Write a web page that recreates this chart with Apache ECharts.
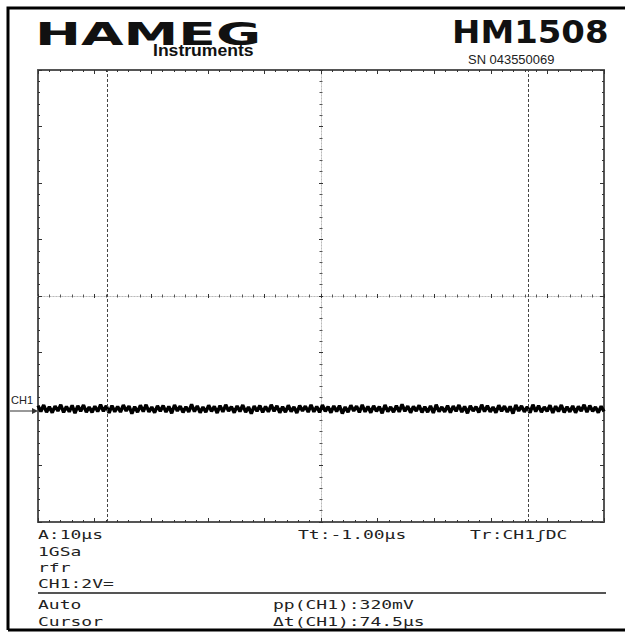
<!DOCTYPE html>
<html>
<head>
<meta charset="utf-8">
<script src="https://cdn.jsdelivr.net/npm/echarts@6/dist/echarts.min.js"></script>
<style>
html,body{margin:0;padding:0;background:#fff;}
#c{width:625px;height:632px;}
</style>
</head>
<body>
<div id="c"></div>
<script>
// ---- data ----
const timeMinUs = -50, timeMaxUs = 50, timeDivUs = 10;   // 10 µs/div, 10 divisions
const voltMin = -4, voltMax = 12, voltDiv = 2;           // 2 V/div, 8 divisions
const cursorTimesUs = [-37.8, 36.7];                     // Δt = 74.5 µs
// CH1 trace, noise band around 0 V (mV), pp ≈ 320 mV
const traceMv = [
120,-90,140,-110,80,-130,100,-70,150,-120,
90,-100,130,-150,110,-80,140,-110,70,-120,
100,-90,150,-80,110,-140,120,-100,90,-110,
140,-70,100,-160,80,-110,130,-90,150,-100,
70,-130,110,-80,120,-110,90,-150,140,-70,
100,-120,80,-100,160,-90,110,-130,70,-110,
130,-80,90,-140,120,-100,150,-70,80,-130,
110,-90,140,-110,70,-160,100,-80,120,-120,
90,-100,150,-80,110,-130,80,-110,130,-90,
70,-140,120,-70,100,-110,150,-100,90,-120,
140,-80,80,-130,110,-90,120,-160,70,-110,
130,-70,100,-120,150,-100,90,-130,110,-80,
80,-150,140,-90,70,-110,120,-100,160,-80,
100,-130,90,-70,130,-120,80,-110,110,-140,
150,-90,70,-100,120,-130,100,-80,140,-110,
90,-150,110,-70,80,-120,150,-90,120,-100,
70,-130,130,-80,100,-110,90,-160,140,-70,
110,-100,80,-130,150,-90,120,-110,70,-80,
130,-140,100,-90,140,-120,80,-100,110,-130,
90,-70,150,-110,120,-80,70,-130,100,-90
];
const headerTexts = {brand:'HAMEG', sub:'Instruments', model:'HM1508', serial:'SN 043550069'};
const statusLeft = ['A:10µs','1GSa','rfr','CH1:2V='];
const statusMid = 'Tt:-1.00µs';
const statusRight = 'Tr:CH1ʃDC';
const measureLeft = ['Auto','Cursor'];
const measureRight = ['pp(CH1):320mV','Δt(CH1):74.5µs'];

// ---- build ----
const sampleStepUs = (timeMaxUs - timeMinUs) / (traceMv.length - 1);
const traceData = traceMv.map((v,i)=>[timeMinUs + i*sampleStepUs, v/1000]);

const chart = echarts.init(document.getElementById('c'), null, {renderer:'svg'});

const G = {left:38, top:70, width:566, height:452};
const borderColor = '#555';
const tickColor = '#333';

function xAx(extra){
  return Object.assign({
    type:'value', min:timeMinUs, max:timeMaxUs, interval:timeDivUs, silent:true,
    axisLabel:{show:false}, splitLine:{show:false},
    axisLine:{show:true, onZero:false, lineStyle:{color:borderColor, width:2}},
    axisTick:{show:true, inside:true, length:4, lineStyle:{color:tickColor, width:1}},
    minorTick:{show:true, splitNumber:5, length:2, lineStyle:{color:tickColor, width:1}}
  }, extra);
}
function yAx(extra){
  return Object.assign({
    type:'value', min:voltMin, max:voltMax, interval:voltDiv, silent:true,
    axisLabel:{show:false}, splitLine:{show:false},
    axisLine:{show:true, onZero:false, lineStyle:{color:borderColor, width:2}},
    axisTick:{show:true, inside:true, length:4, lineStyle:{color:tickColor, width:1}},
    minorTick:{show:true, splitNumber:5, length:2, lineStyle:{color:tickColor, width:1}}
  }, extra);
}
const centerLine = {show:true, onZero:false, lineStyle:{color:'#bbb', width:1, type:[1,2]}};

const mono = '"DejaVu Sans Mono", monospace';
function scopeText(x, y, s){
  return {type:'text', x:x, y:y, scaleX:1.5, silent:true,
    style:{text:s, font:'12px '+mono, fill:'#222', textVerticalAlign:'middle', lineHeight:12}};
}

const graphics = [
  // outer frame
  {type:'polyline', silent:true, shape:{points:[[8,630],[8,8],[625,8]]}, style:{stroke:'#000', lineWidth:3, fill:null}},
  {type:'line', silent:true, shape:{x1:8,y1:630,x2:625,y2:630}, style:{stroke:'#000', lineWidth:3}},
  // header
  {type:'text', x:35, y:34, scaleX:1.72, silent:true, style:{text:headerTexts.brand, font:'900 32px "DejaVu Sans"', fill:'#111', textVerticalAlign:'middle', lineHeight:26}},
  {type:'text', x:153, y:51, scaleX:1.1, silent:true, style:{text:headerTexts.sub, font:'bold 16px "Liberation Sans Narrow", "Liberation Sans"', fill:'#111', textVerticalAlign:'middle', lineHeight:13}},
  {type:'text', x:452, y:32, scaleX:1.06, silent:true, style:{text:headerTexts.model, font:'bold 32px "DejaVu Sans"', fill:'#111', textVerticalAlign:'middle', lineHeight:24}},
  {type:'text', x:468, y:60, scaleX:1.08, silent:true, style:{text:headerTexts.serial, font:'12px "Liberation Sans Narrow", "Liberation Sans"', fill:'#222', textVerticalAlign:'middle', lineHeight:10}},
  // status lines
  scopeText(38, 535, statusLeft[0]),
  scopeText(38, 552, statusLeft[1]),
  scopeText(38, 568, statusLeft[2]),
  scopeText(38, 584, statusLeft[3]),
  scopeText(298, 535, statusMid),
  scopeText(470, 535, statusRight),
  {type:'line', silent:true, shape:{x1:38,y1:593,x2:606,y2:593}, style:{stroke:'#555', lineWidth:2}},
  scopeText(38, 605, measureLeft[0]),
  scopeText(38, 622, measureLeft[1]),
  scopeText(273, 605, measureRight[0]),
  scopeText(273, 622, measureRight[1])
];

chart.setOption({
  animation:false,
  backgroundColor:'#fff',
  grid:G,
  xAxis:[
    xAx({position:'bottom'}),
    xAx({position:'top'}),
    xAx({position:'bottom', offset:-226, axisLine:centerLine, axisTick:{show:true, inside:true, length:2, lineStyle:{color:tickColor}}, minorTick:{show:true, splitNumber:5, length:1.5, lineStyle:{color:'#555'}}}),
    xAx({position:'bottom', offset:-226, axisLine:centerLine, axisTick:{show:true, inside:false, length:2, lineStyle:{color:tickColor}}, minorTick:{show:true, splitNumber:5, length:1.5, lineStyle:{color:'#555'}}})
  ],
  yAxis:[
    yAx({position:'left'}),
    yAx({position:'right'}),
    yAx({position:'left', offset:-283, axisLine:centerLine, axisTick:{show:true, inside:true, length:2, lineStyle:{color:tickColor}}, minorTick:{show:true, splitNumber:5, length:1.5, lineStyle:{color:'#555'}}}),
    yAx({position:'left', offset:-283, axisLine:centerLine, axisTick:{show:true, inside:false, length:2, lineStyle:{color:tickColor}}, minorTick:{show:true, splitNumber:5, length:1.5, lineStyle:{color:'#555'}}})
  ],
  series:[{
    type:'line', xAxisIndex:0, yAxisIndex:0, data:traceData, showSymbol:false, symbol:'none',
    lineStyle:{color:'#000', width:3.4}, silent:true,
    markLine:{silent:true, symbol:'none', label:{show:false},
      lineStyle:{color:'#444', width:1, type:[3,2]},
      data:cursorTimesUs.map(t=>({xAxis:t}))}
  }],
  graphic:graphics
});

// CH1 ground marker at 0 V
const py = chart.convertToPixel({yAxisIndex:0}, 0);
graphics.push(
  {type:'text', x:11, y:py-9, silent:true, style:{text:'CH1', font:'11px "Liberation Sans"', fill:'#222', textVerticalAlign:'middle', lineHeight:10}},
  {type:'line', silent:true, shape:{x1:10,y1:py+2,x2:34,y2:py+2}, style:{stroke:'#333', lineWidth:1}},
  {type:'polygon', silent:true, shape:{points:[[38,py+2],[32,py-1],[32,py+5]]}, style:{fill:'#333'}}
);
chart.setOption({graphic:graphics});
</script>
</body>
</html>
